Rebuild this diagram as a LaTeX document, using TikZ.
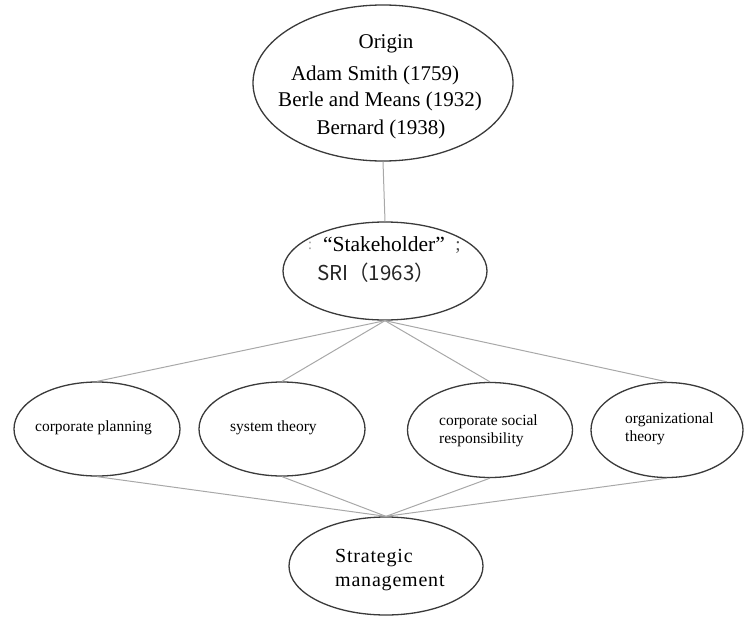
\documentclass[tikz,border=0pt]{standalone}
\usepackage{fontspec}
\setmainfont{Liberation Serif}
\newfontfamily\cjkfont{Noto Sans CJK SC}
\usetikzlibrary{shapes.geometric}
\definecolor{rimgray}{HTML}{3A3A3A}
\definecolor{linkgray}{HTML}{A8A8A8}
\tikzset{
  oval/.style={ellipse, draw=rimgray, line width=1.3pt, fill=white, inner sep=0pt},
  link/.style={draw=linkgray, line width=1pt},
  txt/.style={inner sep=0pt, text=black},
  big/.style={txt, font=\fontsize{21}{24}\selectfont},
  small/.style={txt, font=\fontsize{15.5}{18.5}\selectfont, align=left, anchor=west},
}
\begin{document}
\begin{tikzpicture}[x=1pt,y=-1pt]
\useasboundingbox (0,0) rectangle (744,618);

% ellipses
\node[oval, minimum width=260pt, minimum height=156pt] (origin) at (383,83) {};
\node[oval, minimum width=204pt, minimum height=98pt] (stake) at (385,271) {};
\node[oval, minimum width=166pt, minimum height=94pt] (plan) at (97,429) {};
\node[oval, minimum width=166pt, minimum height=94pt] (sys) at (282,429) {};
\node[oval, minimum width=165pt, minimum height=95pt] (csr) at (490,430) {};
\node[oval, minimum width=152pt, minimum height=95pt] (org) at (667,430) {};
\node[oval, minimum width=194pt, minimum height=98pt] (strat) at (386,566) {};

% connectors
\draw[link] (origin.south) -- (stake.north);
\foreach \t in {plan,sys,csr,org}{
  \draw[link] (stake.south) -- (\t.north);
  \draw[link] (\t.south) -- (strat.north);
}

% texts of the origin node
\node[big] (o1) at (386,44) {Origin};
\node[big] (o2) at (375,75) {Adam Smith (1759)};
\node[big] (o3) at (380,101) {Berle and Means (1932)};
\node[big] (o4) at (381,129) {Bernard (1938)};

% texts of the stakeholder node
\node[txt, text=black!35, font=\fontsize{16}{18}\selectfont] (s0) at (310,246) {:};
\node[big, font=\fontsize{21.5}{24}\selectfont] (s1) at (384,244) {“Stakeholder”};
\node[txt, text=black!70, font=\fontsize{19}{20}\selectfont] (s2) at (458,248) {;};
\node[txt, text=black!85, font=\cjkfont\fontsize{20.5}{22}\selectfont] (s3) at (376,273) {SRI（1963）};

% texts of the four middle nodes
\node[small] (t1) at (35,428) {corporate planning};
\node[small] (t2) at (230,428) {system theory};
\node[small] (t3) at (439,431) {corporate social\\responsibility};
\node[small] (t4) at (625,429) {organizational\\theory};

% text of the bottom node
\node[txt, font=\fontsize{20}{24}\selectfont, align=left, anchor=west] (m1) at (335,570) {\addfontfeature{LetterSpace=4}Strategic\\\addfontfeature{LetterSpace=4}management};
\end{tikzpicture}
\end{document}
